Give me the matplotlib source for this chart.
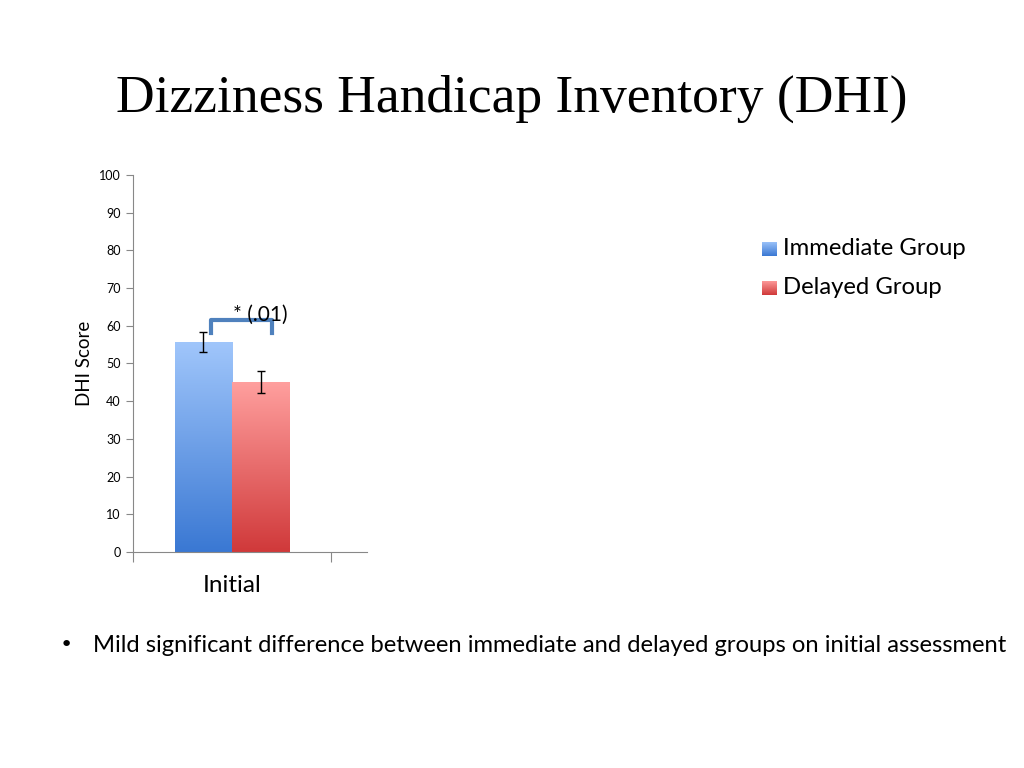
import numpy as np
import matplotlib

matplotlib.use("Agg")
import matplotlib.pyplot as plt
from matplotlib.patches import Rectangle
from matplotlib.colors import LinearSegmentedColormap

groups = ["Immediate Group", "Delayed Group"]
categories = ["Initial"]
means = [55.7, 45.1]
errors = [2.7, 3.0]
sig_label = "* (.01)"
yticks = [0, 10, 20, 30, 40, 50, 60, 70, 80, 90, 100]

TOP_COLORS = ["#a0c6fb", "#ff9f9e"]
BOT_COLORS = ["#3a78d3", "#d0393a"]


def gradient_bar(ax, x0, width, height, top, bottom):
    cmap = LinearSegmentedColormap.from_list("g", [bottom, top])
    grad = np.linspace(0, 1, 256).reshape(-1, 1)
    im = ax.imshow(grad, cmap=cmap, origin="lower", aspect="auto",
                   extent=(x0, x0 + width, 0, height), zorder=2)
    clip = Rectangle((x0, 0), width, height, transform=ax.transData)
    im.set_clip_path(clip)


fig = plt.figure(figsize=(10.24, 7.68), dpi=100)
fig.text(0.5, 0.871, "Dizziness Handicap Inventory (DHI)", ha="center", va="center",
         fontsize=38.5, family="Liberation Serif")

ax = fig.add_axes([0.1299, 0.2813, 0.2285, 0.4908])
width = 0.288
for i, (m, e) in enumerate(zip(means, errors)):
    x0 = -width + i * width
    gradient_bar(ax, x0, width, m, TOP_COLORS[i], BOT_COLORS[i])
    ax.errorbar(x0 + width / 2, m, yerr=e, fmt="none", ecolor="black",
                elinewidth=1.0, capsize=3, capthick=1.0, zorder=3)

# significance bracket
bx0, bx1, by0, by1 = -0.106, 0.202, 58.0, 61.5
ax.plot([bx0, bx0, bx1, bx1], [by0, by1, by1, by0], color="#4f81bd",
        linewidth=3, solid_joinstyle="round", zorder=4, clip_on=False)
ax.text(0.145, 63.0, sig_label, ha="center", va="center", fontsize=15,
        family="Lato", zorder=5)

ax.set_xlim(-0.5, 0.682)
ax.set_ylim(0, 100)
ax.set_yticks(yticks)
ax.set_yticklabels([str(t) for t in yticks], fontsize=9, family="Lato")
ax.set_xticks([-0.5, 0.5])
ax.set_xticklabels([])
ax.tick_params(axis="x", direction="out", length=7, color="#888888")
ax.tick_params(axis="y", direction="out", length=5, color="#888888", pad=4)
for s in ["top", "right"]:
    ax.spines[s].set_visible(False)
ax.spines["left"].set_color("#888888")
ax.spines["bottom"].set_color("#888888")
ax.set_ylabel("DHI Score", fontsize=13.5, family="Lato", labelpad=4)
ax.text(0.0, -9, categories[0], ha="center", va="center", fontsize=17.5, family="Lato")

# legend
for i, g in enumerate(groups):
    y = 0.676 - i * 0.051
    lax = fig.add_axes([0.744, y - 0.0095, 0.0146, 0.019])
    lax.imshow(np.linspace(0, 1, 64).reshape(-1, 1), origin="lower", aspect="auto",
               cmap=LinearSegmentedColormap.from_list("l", [BOT_COLORS[i], TOP_COLORS[i]]))
    lax.axis("off")
    fig.text(0.765, y, g, ha="left", va="center", fontsize=17.2, family="Lato")

fig.text(0.058, 0.16, "\u2022", ha="left", va="center", fontsize=16, family="DejaVu Sans")
fig.text(0.091, 0.16, "Mild significant difference between immediate and delayed groups on initial assessment",
         ha="left", va="center", fontsize=17.1, family="Lato")

fig.savefig("out.png", dpi=100)
